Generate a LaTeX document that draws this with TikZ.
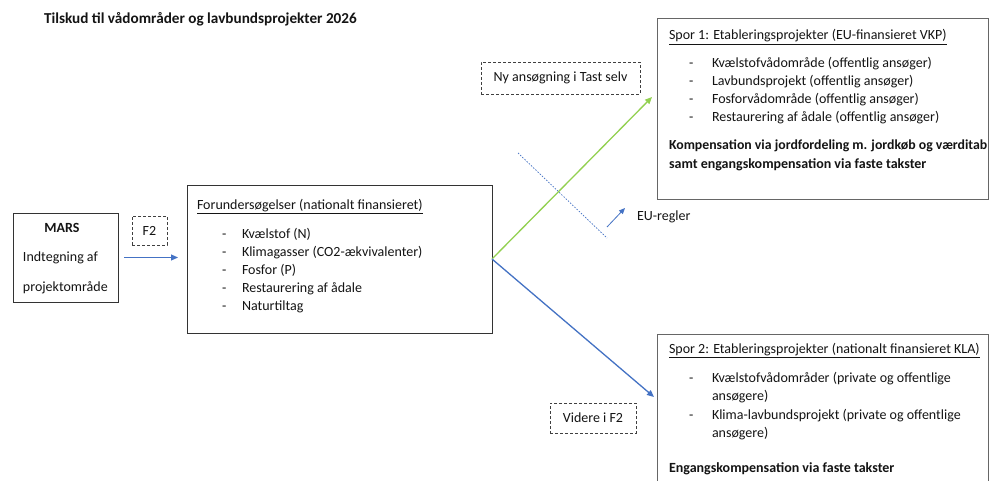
\documentclass[tikz,border=0pt]{standalone}
\usepackage{fontspec}
\setmainfont{Carlito}
\usetikzlibrary{arrows.meta,calc}
\definecolor{arrowblue}{RGB}{68,114,196}
\definecolor{arrowgreen}{RGB}{146,208,80}
\definecolor{textcol}{RGB}{20,20,20}
\begin{document}
\begin{tikzpicture}[x=1pt,y=-1pt,
  txt/.style={inner sep=0pt, outer sep=0pt, anchor=base west, text=textcol, font=\fontsize{14}{18}\selectfont},
  boldtxt/.style={txt, font=\fontsize{14}{18}\selectfont\bfseries},
  box/.style={draw=black!80, line width=0.8pt, inner sep=0pt, outer sep=0pt, anchor=north west},
  sporbox/.style={box, draw=black!60, line width=1pt},
  dbox/.style={draw=black!75, dash pattern=on 3pt off 2pt, line width=0.8pt, inner sep=0pt, outer sep=0pt, anchor=north west, text=textcol, font=\fontsize{14}{18}\selectfont},
  flow/.style={line width=1.3pt, -{Triangle[length=7pt,width=6pt]}},
]
\useasboundingbox (0,0) rectangle (990,481);
\fill[white] (0,0) rectangle (990,481);

% title
\node[boldtxt, font=\fontsize{15.2}{18}\selectfont\bfseries] (title) at (44,24) {Tilskud til vådområder og lavbundsprojekter 2026};

% MARS box
\node[box, minimum width=105pt, minimum height=89pt] (mars) at (13,213) {};
\node[boldtxt, anchor=base] (marsT) at (62,233) {MARS};
\node[txt] (mars1) at (23,261) {Indtegning af};
\node[txt] (mars2) at (23,291) {projektområde};

% F2 dashed
\node[dbox, minimum width=35pt, minimum height=29pt] (f2) at (132,216) {F2};

% Forundersøgelser
\node[box, minimum width=305pt, minimum height=148pt] (fors) at (187,185) {};
\node[txt] (forsT) at (197,209) {\underline{Forundersøgelser (nationalt finansieret)}};
\foreach \t/\y [count=\i] in {Kvælstof (N)/238, Klimagasser (CO2-ækvivalenter)/256, Fosfor (P)/274, Restaurering af ådale/292, Naturtiltag/310}{
  \node[txt] (fd\i) at (222,\y) {-};
  \node[txt] (fi\i) at (242,\y) {\t};
}

% Spor 1
\node[sporbox, minimum width=331pt, minimum height=181pt] (spor1) at (657,19) {};
\node[txt] (s1T) at (669,40) {\underline{Spor 1: Etableringsprojekter (EU-finansieret VKP)}};
\foreach \t/\y [count=\i] in {Kvælstofvådområde (offentlig ansøger)/68, Lavbundsprojekt (offentlig ansøger)/86, Fosforvådområde (offentlig ansøger)/104, Restaurering af ådale (offentlig ansøger)/122}{
  \node[txt] (s1d\i) at (689,\y) {-};
  \node[txt] (s1i\i) at (712,\y) {\t};
}
\node[boldtxt, font=\fontsize{13.8}{18}\selectfont\bfseries] (s1b1) at (669,150) {Kompensation via jordfordeling m. jordkøb og værditab};
\node[boldtxt] (s1b2) at (669,169) {samt engangskompensation via faste takster};

% Spor 2
\node[sporbox, minimum width=331pt, minimum height=170pt] (spor2) at (657,334) {};
\node[txt] (s2T) at (669,353) {\underline{Spor 2: Etableringsprojekter (nationalt finansieret KLA)}};
\node[txt] (s2d1) at (689,382) {-};
\node[txt] (s2i1) at (712,382) {Kvælstofvådområder (private og offentlige};
\node[txt] (s2i1b) at (712,400.5) {ansøgere)};
\node[txt] (s2d2) at (689,419) {-};
\node[txt] (s2i2) at (712,419) {Klima-lavbundsprojekt (private og offentlige};
\node[txt] (s2i2b) at (712,437.5) {ansøgere)};
\node[boldtxt] (s2b) at (669,472) {Engangskompensation via faste takster};

% dashed labels
\node[dbox, minimum width=159pt, minimum height=32pt] (ny) at (481,62) {Ny ansøgning i Tast selv};
\node[dbox, minimum width=86pt, minimum height=30pt] (videre) at (550,403) {Videre i F2};

% EU-regler
\coordinate (eu1) at (518,153);
\coordinate (eu2) at (607,238);
\draw[arrowblue, line width=0.7pt, dash pattern=on 1.5pt off 1.5pt] (eu1) -- (eu2);
\coordinate (eua) at (607,227);
\coordinate (eub) at (625,208);
\draw[arrowblue, line width=0.8pt, -{Triangle[length=6pt,width=5pt]}] (eua) -- (eub);
\node[txt] (eu) at (637,220) {EU-regler};

% connectors
\coordinate (gend) at (652,97);
\coordinate (bend) at (654,397);
\draw[flow, arrowblue, line width=1pt, shorten <=6pt, shorten >=9pt] (mars.east) -- (mars.east -| fors.west);
\draw[flow, arrowgreen] (fors.east) -- (gend);
\draw[flow, arrowblue] (fors.east) -- (bend);
\end{tikzpicture}
\end{document}
